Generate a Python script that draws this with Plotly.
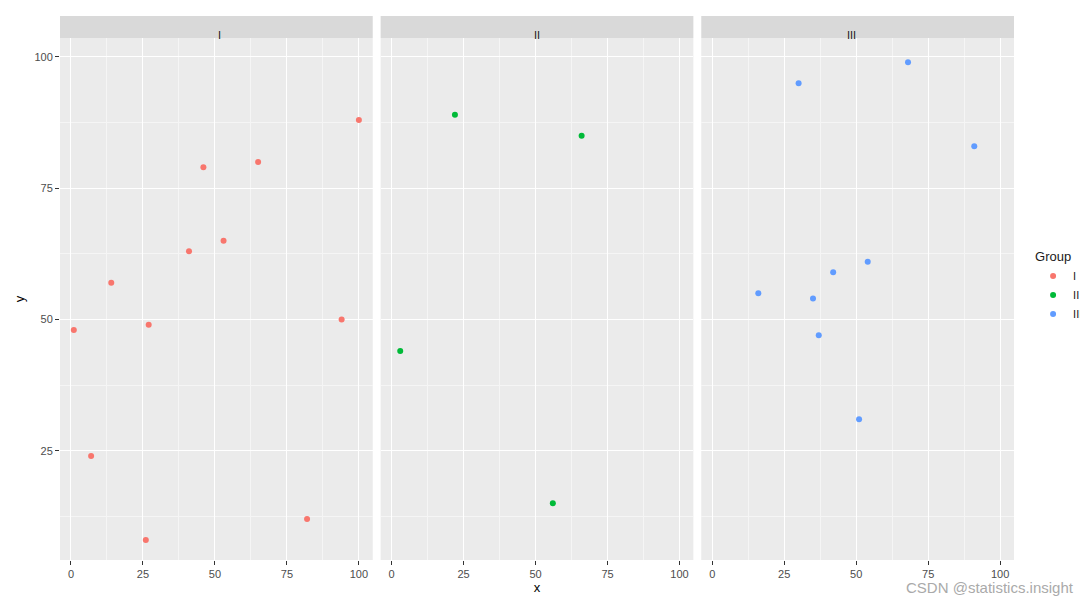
import plotly.graph_objects as go

groups = ["I", "II", "III"]
colors = {"I": "#F8766D", "II": "#00BA38", "III": "#619CFF"}

x_I = [1, 7, 14, 26, 27, 41, 46, 53, 65, 82, 94, 100]
y_I = [48, 24, 57, 8, 49, 63, 79, 65, 80, 12, 50, 88]
x_II = [3, 22, 56, 66]
y_II = [44, 89, 15, 85]
x_III = [16, 30, 35, 37, 42, 51, 54, 68, 91]
y_III = [55, 95, 54, 47, 59, 31, 61, 99, 83]

data = {"I": (x_I, y_I), "II": (x_II, y_II), "III": (x_III, y_III)}
domains = [[0, 0.3278], [0.3361, 0.6639], [0.6722, 1]]
ytop = 0.9596

fig = go.Figure()
ax = dict(range=[-3.8, 104.8], tickvals=[0, 25, 50, 75, 100], showgrid=True,
          gridcolor="white", gridwidth=1.1, zeroline=False, ticks="outside",
          ticklen=4, tickcolor="#333333", tickfont=dict(color="#4d4d4d", size=11),
          minor=dict(dtick=12.5, tick0=12.5, gridcolor="#f5f5f5", gridwidth=0.5, showgrid=True),
          showline=False)
ay = dict(range=[4.2, 103.6], tickvals=[25, 50, 75, 100], showgrid=True,
          gridcolor="white", gridwidth=1.1, zeroline=False, ticks="outside",
          ticklen=4, tickcolor="#333333", tickfont=dict(color="#4d4d4d", size=11),
          minor=dict(dtick=12.5, tick0=12.5, gridcolor="#f5f5f5", gridwidth=0.5, showgrid=True),
          domain=[0, ytop])

for i, g in enumerate(groups):
    n = "" if i == 0 else str(i + 1)
    xs, ys = data[g]
    fig.add_trace(go.Scatter(x=xs, y=ys, mode="markers", name=g,
                             marker=dict(color=colors[g], size=6),
                             xaxis="x" + n, yaxis="y" + n))
    xa = dict(ax, domain=domains[i], anchor="y" + n)
    ya = dict(ay, anchor="x" + n)
    if i > 0:
        ya["showticklabels"] = False
        ya["ticks"] = ""
    if i == 1:
        xa["title"] = dict(text="x", font=dict(size=13, color="black"), standoff=2)
    if i == 0:
        ya["title"] = dict(text="y", font=dict(size=13, color="black"), standoff=6)
    fig.update_layout({"xaxis" + n: xa, "yaxis" + n: ya})
    fig.add_shape(type="rect", xref="paper", yref="paper", x0=domains[i][0], x1=domains[i][1],
                  y0=0, y1=ytop, fillcolor="#ebebeb", line_width=0, layer="below")
    fig.add_shape(type="rect", xref="paper", yref="paper", x0=domains[i][0], x1=domains[i][1],
                  y0=ytop, y1=1, fillcolor="#d9d9d9", line_width=0)
    fig.add_annotation(text=g, xref="paper", yref="paper", x=sum(domains[i]) / 2,
                       y=(ytop + 1) / 2, showarrow=False, font=dict(size=11, color="#1a1a1a"))

fig.add_annotation(text="CSDN @statistics.insight", xref="paper", yref="paper",
                   x=1.065, y=-0.07, xanchor="right", showarrow=False,
                   font=dict(size=15, color="#aaaaaa"))

fig.update_layout(
    width=1088, height=600, plot_bgcolor="white", paper_bgcolor="white",
    margin=dict(l=52, r=78, t=8, b=48),
    font=dict(family="Liberation Sans, Arial", size=12),
    legend=dict(title=dict(text="Group", font=dict(size=13)), x=1.02, y=0.58,
                yanchor="top", bgcolor="white", font=dict(size=11, color="#1a1a1a")),
)

fig.write_html("out.html")
